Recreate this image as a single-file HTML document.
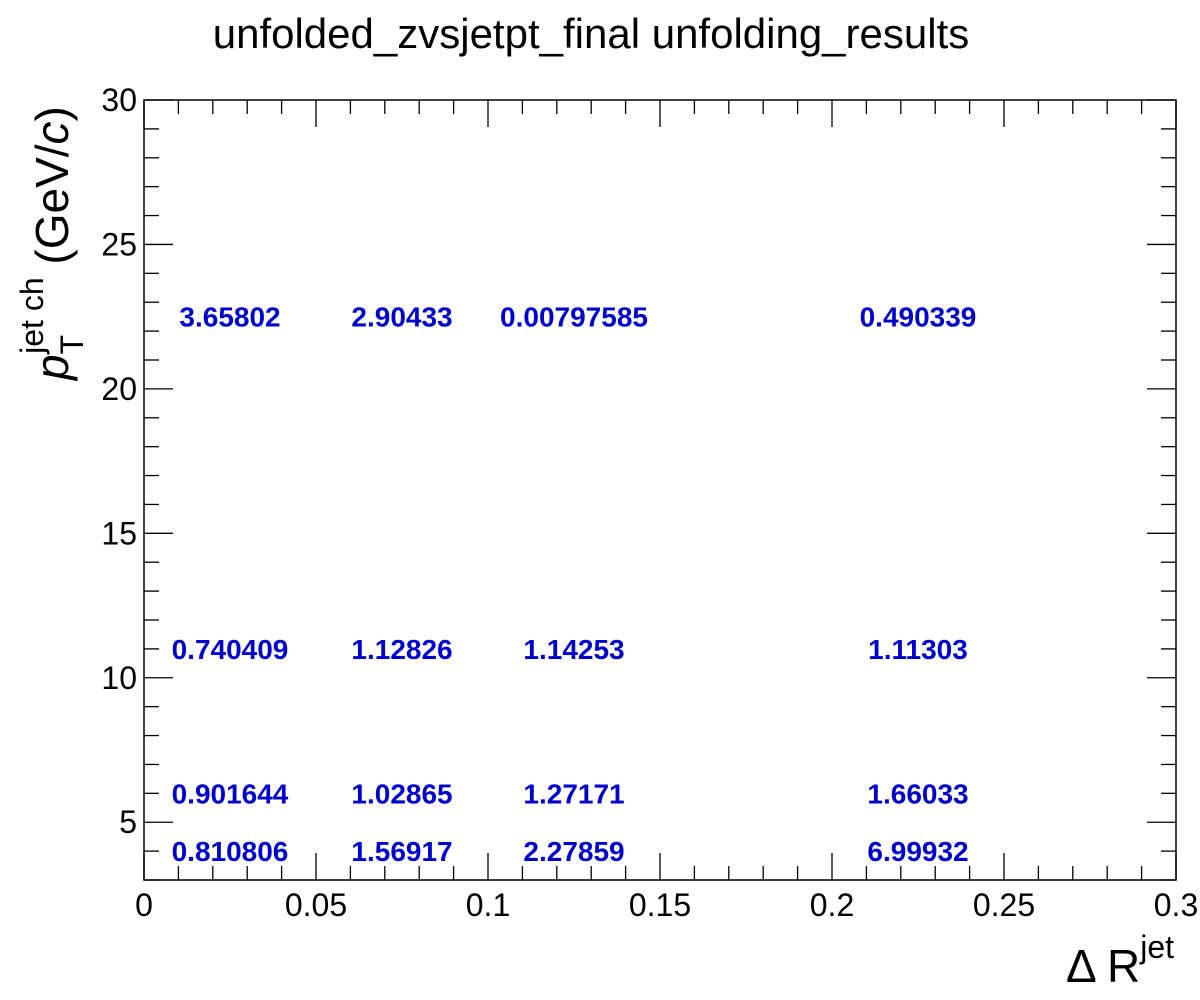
<!DOCTYPE html>
<html><head><meta charset="utf-8"><style>
body{margin:0;background:#fff}
svg{display:block;font-family:"Liberation Sans",sans-serif}
</style></head><body>
<svg id="c" width="1200" height="1000" xmlns="http://www.w3.org/2000/svg">
<text x="591" y="48" font-size="42" text-anchor="middle">unfolded_zvsjetpt_final unfolding_results</text>
<rect x="144" y="100" width="1032" height="780" fill="none" stroke="#000" stroke-width="1.5"/>
<g id="ticks"></g>
<g id="labels"></g>
<g id="cells"></g>
<text x="1174" y="982" font-size="46" text-anchor="end">Δ R<tspan dy="-24" font-size="32">jet</tspan></text>
<g transform="translate(68,380) rotate(-90)">
<text x="0" y="0" font-size="46"><tspan font-style="italic">p</tspan><tspan dy="15" font-size="32">T</tspan><tspan dx="-19" dy="-40" font-size="32">jet ch</tspan><tspan dy="25"> (GeV/</tspan><tspan font-style="italic">c</tspan>)</text>
</g>
</svg>
<script>
const xEdges=[0,0.05,0.1,0.15,0.3];
const yEdges=[3,5,7,15,30];
const values=[
["0.810806","1.56917","2.27859","6.99932"],
["0.901644","1.02865","1.27171","1.66033"],
["0.740409","1.12826","1.14253","1.11303"],
["3.65802","2.90433","0.00797585","0.490339"]];
const xTicks=["0","0.05","0.1","0.15","0.2","0.25","0.3"];
const yTicks=["5","10","15","20","25","30"];
const X0=144,X1=1176,Y0=880,Y1=100,xmin=0,xmax=0.3,ymin=3,ymax=30;
const sx=v=>X0+(v-xmin)/(xmax-xmin)*(X1-X0);
const sy=v=>Y0-(v-ymin)/(ymax-ymin)*(Y0-Y1);
const NS="http://www.w3.org/2000/svg";
function mk(t,a,p){const e=document.createElementNS(NS,t);for(const k in a)e.setAttribute(k,a[k]);p.appendChild(e);return e;}
const tg=document.getElementById('ticks'),lg=document.getElementById('labels'),cg=document.getElementById('cells');
for(let i=0;i<=30;i++){const v=i*0.01;const x=sx(v);const L=(i%5==0)?27:14;
 let l=mk('line',{x1:x,x2:x,y1:Y0,y2:Y0-L,stroke:'#000','stroke-width':1.3},tg);
 
 
 l=mk('line',{x1:x,x2:x,y1:Y1,y2:Y1+L,stroke:'#000','stroke-width':1.3},tg);
 
 }
for(let v=3;v<=30;v++){const y=sy(v);const L=(v%5==0)?29:15;
 let l=mk('line',{x1:X0,x2:X0+L,y1:y,y2:y,stroke:'#000','stroke-width':1.3},tg);
 
 
 l=mk('line',{x1:X1,x2:X1-L,y1:y,y2:y,stroke:'#000','stroke-width':1.3},tg);
 
 }
xTicks.forEach(s=>{const t=mk('text',{x:sx(parseFloat(s)),y:916,'font-size':32,'text-anchor':'middle'},lg);t.textContent=s;
 
 });
yTicks.forEach(s=>{const t=mk('text',{x:137,y:sy(parseFloat(s))+11,'font-size':32,'text-anchor':'end'},lg);t.textContent=s;
 
 });
values.forEach((row,j)=>row.forEach((s,i)=>{
 const cx=sx((xEdges[i]+xEdges[i+1])/2),cy=sy((yEdges[j]+yEdges[j+1])/2);
 const t=mk('text',{x:cx,y:cy+10,'font-size':28,'font-weight':'bold',fill:'#0000cc','text-anchor':'middle'},cg);t.textContent=s;
 
 }));
</script>
</body></html>
